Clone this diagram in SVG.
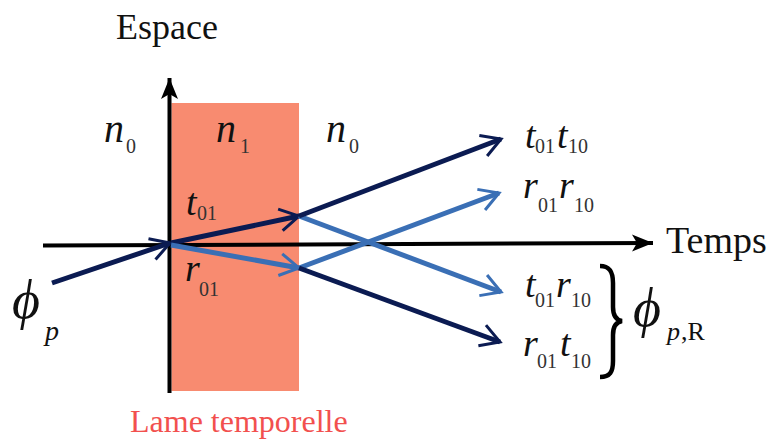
<svg xmlns="http://www.w3.org/2000/svg" width="769" height="439" viewBox="0 0 769 439">
<style>
  .rm { font-family: "Liberation Serif", "Times New Roman", "DejaVu Serif", serif; fill: #111; }
  .it { font-family: "Liberation Serif", "Times New Roman", "DejaVu Serif", serif; font-style: italic; fill: #111; }
  .sub { font-family: "Liberation Serif", "Times New Roman", "DejaVu Serif", serif; fill: #333; font-size: 20px; }
  .navy { stroke: #0b1b52; stroke-width: 5; fill: none; stroke-linecap: butt; }
  .blue { stroke: #3a6fb5; stroke-width: 5; fill: none; stroke-linecap: butt; }
  .axis { stroke: #000; stroke-width: 4; fill: none; }
</style>
<defs>
  <marker id="chevN" markerUnits="userSpaceOnUse" viewBox="-22 -13 24 26" refX="0" refY="0" markerWidth="24" markerHeight="26" orient="auto" overflow="visible">
    <path d="M-19,-11 L0,0 L-19,11" fill="none" stroke="#0b1b52" stroke-width="3"/>
  </marker>
  <marker id="chevB" markerUnits="userSpaceOnUse" viewBox="-22 -13 24 26" refX="0" refY="0" markerWidth="24" markerHeight="26" orient="auto" overflow="visible">
    <path d="M-19,-11 L0,0 L-19,11" fill="none" stroke="#3a6fb5" stroke-width="3"/>
  </marker>
  <marker id="headK" markerUnits="userSpaceOnUse" viewBox="-22 -9 24 18" refX="0" refY="0" markerWidth="24" markerHeight="18" orient="auto" overflow="visible">
    <path d="M0,0 L-21,-8.5 L-16,0 L-21,8.5 Z" fill="#000"/>
  </marker>
</defs>

<g id="lame">
  <rect x="171.5" y="103" width="127.5" height="288" fill="#f88b70"/>
</g>

<g id="axes">
  <line class="axis" x1="43" y1="245.5" x2="653" y2="243" marker-end="url(#headK)"/>
  <line class="axis" x1="169.5" y1="393" x2="169.5" y2="78" marker-end="url(#headK)"/>
</g>

<g id="connectors">
  <line class="navy" x1="52" y1="283" x2="170" y2="243" marker-end="url(#chevN)"/>
  <line class="navy" x1="171" y1="243" x2="299" y2="216" marker-end="url(#chevN)"/>
  <line class="blue" x1="171" y1="245" x2="299" y2="268" marker-end="url(#chevB)"/>
  <line class="blue" x1="299" y1="216" x2="501" y2="292" marker-end="url(#chevB)"/>
  <line class="blue" x1="299" y1="268" x2="499" y2="193" marker-end="url(#chevB)"/>
  <line class="navy" x1="299" y1="216" x2="501" y2="139" marker-end="url(#chevN)"/>
  <line class="navy" x1="299" y1="268" x2="500" y2="342" marker-end="url(#chevN)"/>
</g>

<g id="labels">
  <text class="rm" x="116" y="39" font-size="36">Espace</text>
  <text class="rm" x="666" y="253" font-size="38">Temps</text>
  <text class="rm" x="130" y="432" font-size="32" style="fill:#f2504e">Lame temporelle</text>

  <text class="it" x="104" y="142" font-size="40">n</text><text class="sub" x="126" y="153">0</text>
  <text class="it" x="216" y="142" font-size="40">n</text><text class="sub" x="240" y="153">1</text>
  <text class="it" x="326" y="142" font-size="40">n</text><text class="sub" x="349" y="153">0</text>

  <text class="it" x="186" y="215" font-size="38">t</text><text class="sub" x="197" y="220">01</text>
  <text class="it" x="185" y="281" font-size="38">r</text><text class="sub" x="199" y="296">01</text>

  <text class="it" x="12" y="318" font-size="54">ϕ</text><text class="it" x="45" y="340" font-size="28">p</text>

  <text class="it" x="525" y="148" font-size="38">t</text><text class="sub" x="535" y="153">01</text>
  <text class="it" x="557" y="148" font-size="38">t</text><text class="sub" x="568" y="153">10</text>

  <text class="it" x="523" y="198" font-size="38">r</text><text class="sub" x="538" y="212">01</text>
  <text class="it" x="559" y="198" font-size="38">r</text><text class="sub" x="574" y="212">10</text>

  <text class="it" x="525" y="297" font-size="38">t</text><text class="sub" x="535" y="307">01</text>
  <text class="it" x="556" y="297" font-size="38">r</text><text class="sub" x="571" y="307">10</text>

  <text class="it" x="523" y="356" font-size="38">r</text><text class="sub" x="537" y="368">01</text>
  <text class="it" x="560" y="356" font-size="38">t</text><text class="sub" x="571" y="368">10</text>
</g>

<g id="brace">
  <path d="M600,266 C610,266 613,272 613,283 L613,307 C613,315 616,320 622,321 C616,322 613,327 613,335 L613,361 C613,372 610,377 600,377" fill="none" stroke="#000" stroke-width="4.5"/>
  <text class="it" x="633" y="326" font-size="54">ϕ</text>
  <text class="it" x="667" y="340" font-size="26">p</text><text class="rm" x="681" y="340" font-size="26">,R</text>
</g>
</svg>
